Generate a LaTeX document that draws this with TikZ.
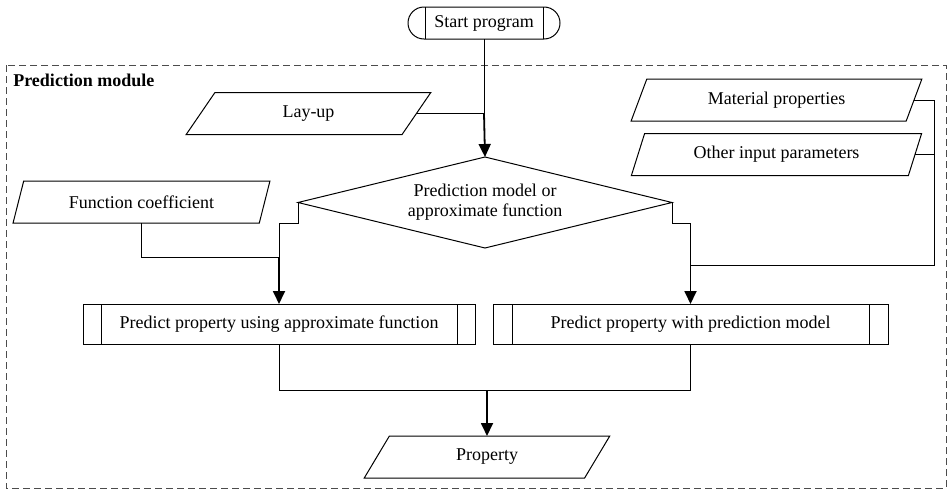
\documentclass[tikz,border=0pt]{standalone}
\usepackage{fontspec}
\setmainfont{Liberation Serif}
\usetikzlibrary{shapes.geometric,arrows.meta}

\begin{document}
\begin{tikzpicture}[x=1pt,y=-1pt,
  every node/.style={font=\fontsize{18}{20}\selectfont, outer sep=0pt},
  io/.style={draw, line width=1pt, trapezium, trapezium left angle=63,
    trapezium right angle=117, trapezium stretches=true,
    minimum height=42pt, inner sep=0pt},
  proc/.style={draw, line width=1pt, rectangle, minimum height=40pt, inner sep=0pt},
  decision/.style={draw, line width=1pt, diamond, aspect=4.1,
    minimum width=374pt, minimum height=91pt, inner sep=0pt, align=center},
  terminal/.style={draw, line width=1pt, rectangle, rounded corners=16pt,
    minimum width=152pt, minimum height=32pt, inner sep=0pt},
  link/.style={line width=1pt},
  flow/.style={line width=1.8pt, -{Triangle[length=13pt,width=12pt]}},
  frame/.style={draw=black!70, line width=1pt, dash pattern=on 7pt off 4pt}]

\useasboundingbox (0,0) rectangle (950,490);

% module frame and its title
\draw[frame] (6,65) rectangle (946,488);
\node[anchor=base west, font=\bfseries\fontsize{18}{20}\selectfont] (modlabel) at (10,86) {Prediction module};

% start terminal with its inner bars
\node[terminal] (start) at (484,23) {Start program};
\draw[link] ([xshift=17pt]start.north west) -- ([xshift=17pt]start.south west);
\draw[link] ([xshift=-17pt]start.north east) -- ([xshift=-17pt]start.south east);

% inputs
\node[io, minimum width=245pt] (layup) at (308.5,113.5) {Lay-up};
\node[io, minimum width=257pt] (fc) at (141.5,202) {Function coefficient};
\node[io, minimum width=291pt] (mat) at (776.5,100) {Material properties};
\node[io, minimum width=291pt] (other) at (776.5,154.5) {Other input parameters};

% decision
\node[decision] (dec) at (485,202.5) {Prediction model or\\approximate function};

% predefined processes
\node[proc, minimum width=392pt] (box1) at (279,324) {Predict property using approximate function};
\draw[link] ([xshift=18pt]box1.north west) -- ([xshift=18pt]box1.south west);
\draw[link] ([xshift=-18pt]box1.north east) -- ([xshift=-18pt]box1.south east);
\node[proc, minimum width=395pt] (box2) at (690.5,324) {Predict property with prediction model};
\draw[link] ([xshift=19pt]box2.north west) -- ([xshift=19pt]box2.south west);
\draw[link] ([xshift=-19pt]box2.north east) -- ([xshift=-19pt]box2.south east);

% output
\node[io, minimum width=246pt] (prop) at (487,457) {Property};

% junction points
\coordinate (j1) at (start.south |- layup.right side);
\coordinate (jl) at (279,257);
\coordinate (jr) at (690.5,265);
\coordinate (bus) at (934,265);
\coordinate (mergeY) at (0,390);
\coordinate (jm) at (prop.north |- mergeY);

% start and lay-up into the decision
\draw[link] (start.south) -- (j1);
\draw[link] (layup.right side) -- (j1);
\draw[flow] (j1) -- (dec.north);

% approximate-function branch
\draw[link] (dec.west) -- ++(0,21) -| (jl);
\draw[link] (fc.south) |- (jl);
\draw[flow] (jl) -- (box1.north);

% prediction-model branch
\draw[link] (dec.east) -- ++(0,21) -| (jr);
\draw[link] (mat.right side) -| (bus) -- (jr);
\draw[link] (other.right side) -- (other.right side -| bus);
\draw[flow] (jr) -- (box2.north);

% merge into the output
\draw[link] (box1.south) |- (box2.south |- mergeY) -- (box2.south);
\draw[flow] (jm) -- (prop.north);
\end{tikzpicture}
\end{document}
